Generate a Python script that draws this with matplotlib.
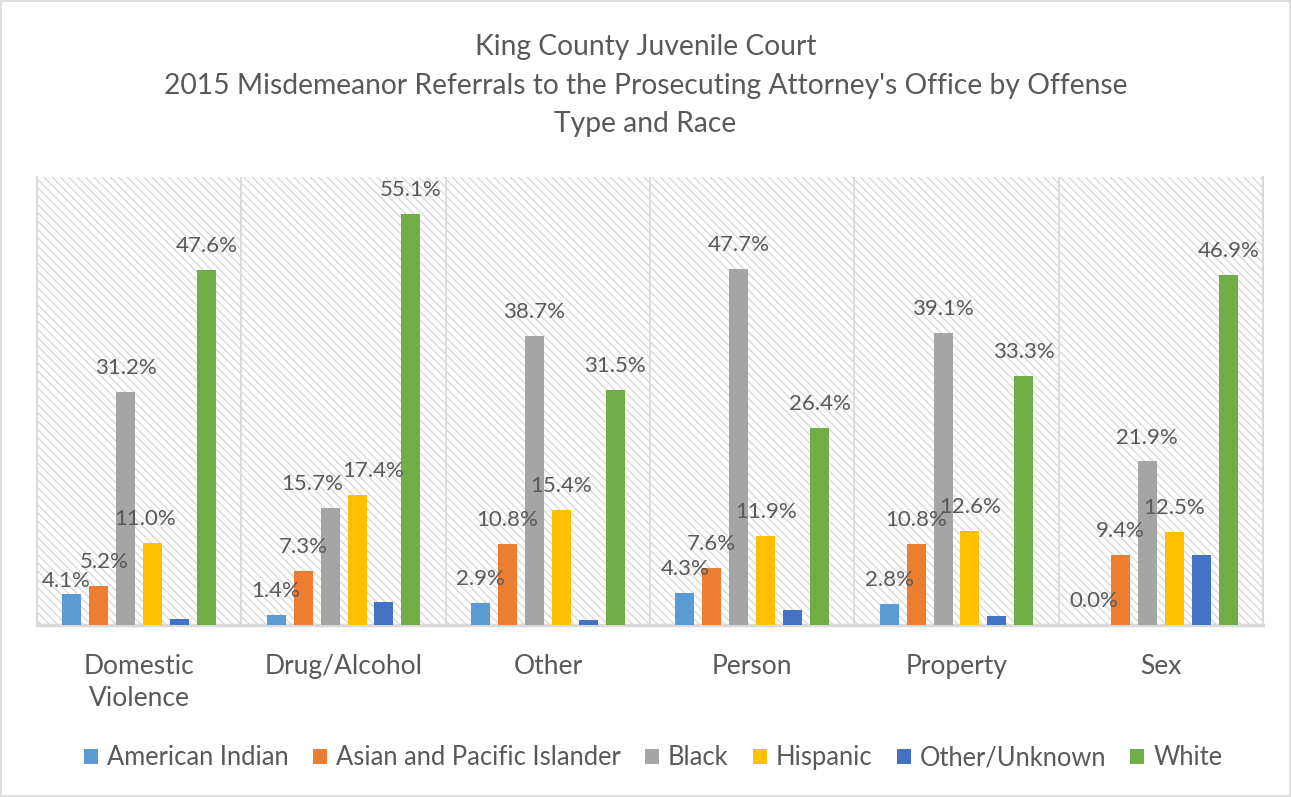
import numpy as np
import matplotlib.pyplot as plt
from matplotlib.patches import Rectangle

# data (percent)
categories = ["Domestic\nViolence", "Drug/Alcohol", "Other", "Person", "Property", "Sex"]
races = ["American Indian", "Asian and Pacific Islander", "Black", "Hispanic",
         "Other/Unknown", "White"]
american_indian = [4.1, 1.4, 2.9, 4.3, 2.8, 0.0]
asian_pacific = [5.2, 7.3, 10.8, 7.6, 10.8, 9.4]
black = [31.2, 15.7, 38.7, 47.7, 39.1, 21.9]
hispanic = [11.0, 17.4, 15.4, 11.9, 12.6, 12.5]
other_unknown = [0.8, 3.1, 0.7, 2.0, 1.2, 9.4]
white = [47.6, 55.1, 31.5, 26.4, 33.3, 46.9]

series = [american_indian, asian_pacific, black, hispanic, other_unknown, white]
colors = ["#5B9BD5", "#ED7D31", "#A5A5A5", "#FFC000", "#4472C4", "#70AD47"]
show_labels = [True, True, True, True, False, True]

# a few labels were moved in the original: (series, category) -> (dx, dy) pixels
# (negative dy = lower)
nudges = {(0, 0): (-6, -10), (1, 0): (5, 0), (3, 0): (-8, 0),
          (2, 1): (-18, 0), (3, 1): (16, 0)}

txt = "#595959"
grid = "#D9D9D9"
plt.rcParams['font.family'] = ['Lato', 'DejaVu Sans']
plt.rcParams['hatch.color'] = grid

fig = plt.figure(figsize=(12.91, 7.97), dpi=100)
ax = fig.add_axes([0.0287, 0.2158, 0.9496, 0.5621])

# hatched plot-area background
ax.add_patch(Rectangle((0, 0), 1, 1, transform=ax.transAxes, facecolor="white",
                       edgecolor=grid, hatch="\\\\\\\\", linewidth=0, zorder=0))

x = np.arange(len(categories))
step = 0.132
width = 0.093
for i, (vals, c, lab) in enumerate(zip(series, colors, races)):
    pos = x + (i - 2.5) * step
    bars = ax.bar(pos, vals, width, color=c, label=lab, zorder=3)
    if show_labels[i]:
        for j, (b, v) in enumerate(zip(bars, vals)):
            dx, dy = nudges.get((i, j), (0, 0))
            ax.annotate(f"{v:.1f}%", (b.get_x() + b.get_width() / 2, v),
                        xytext=(dx * 0.72, 10 + dy * 0.72), textcoords="offset points",
                        ha="center", va="bottom", fontsize=16, color=txt, zorder=4)

for b in np.arange(0.5, len(categories) - 0.5, 1):
    ax.axvline(b, color=grid, linewidth=1.3, zorder=1)

ax.set_xlim(-0.5, len(categories) - 0.5)
ax.set_ylim(0, 60)
ax.set_yticks([])
ax.set_xticks(x)
ax.set_xticklabels(categories, fontsize=19, color=txt, linespacing=1.35)
ax.tick_params(axis="x", length=0, pad=21)
ax.spines["top"].set_visible(False)
for s in ["left", "right", "bottom"]:
    ax.spines[s].set_color(grid)
    ax.spines[s].set_linewidth(1.5)
ax.spines["bottom"].set_linewidth(2.5)

fig.text(0.5, 0.957, "King County Juvenile Court\n2015 Misdemeanor Referrals to the Prosecuting Attorney's Office by Offense\nType and Race",
         ha="center", va="top", fontsize=20.3, color=txt, linespacing=1.6)

fig.legend(loc="center", bbox_to_anchor=(0.506, 0.049), ncol=6, frameon=False,
           fontsize=18.4, labelcolor=txt, handlelength=0.55, handleheight=0.55,
           handletextpad=0.35, columnspacing=0.95)

fig.patches.append(Rectangle((0.001, 0.001), 0.998, 0.998, transform=fig.transFigure,
                             fill=False, edgecolor=grid, linewidth=1.2))

fig.savefig("out.png", dpi=100)
